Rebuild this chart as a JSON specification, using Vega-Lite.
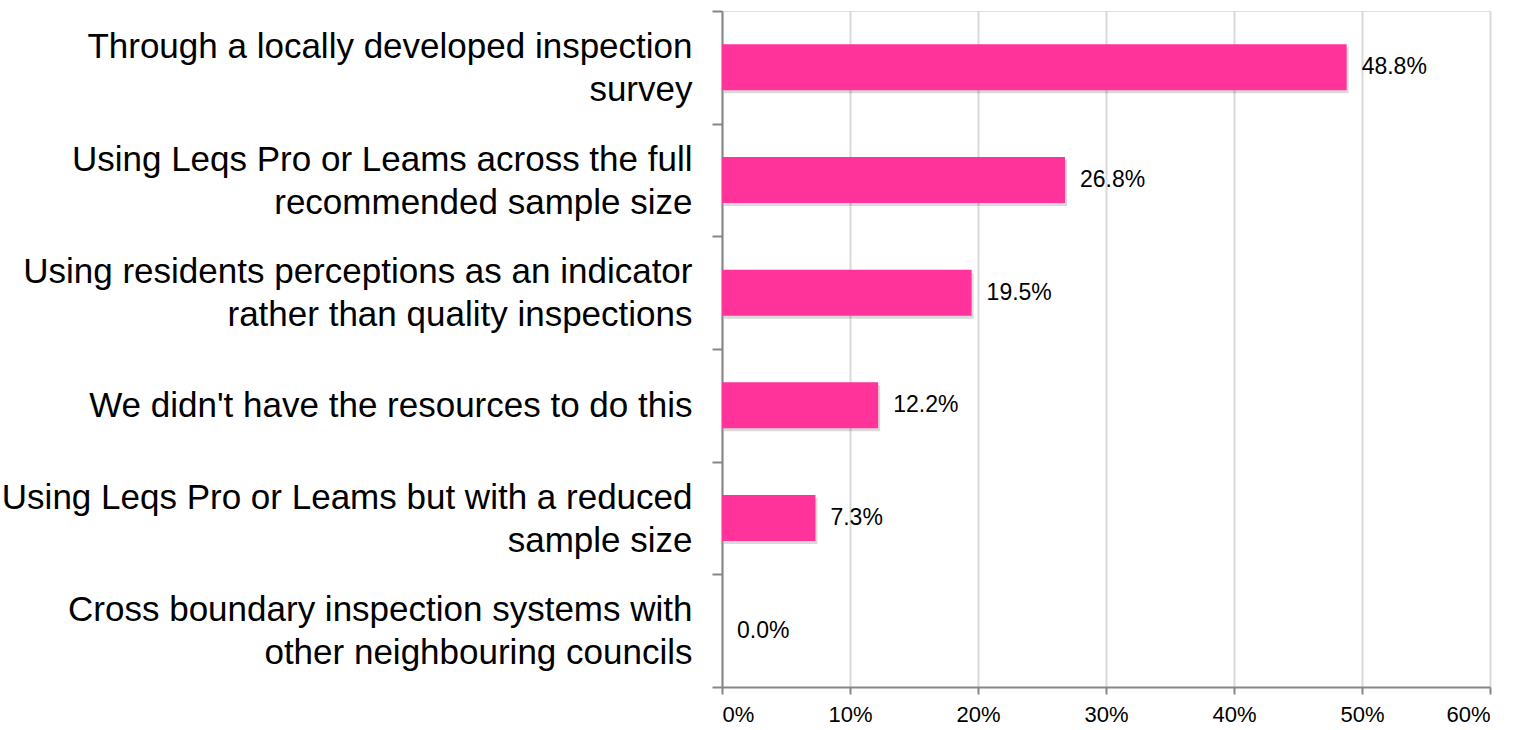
{
  "$schema": "https://vega.github.io/schema/vega-lite/v6.json",
  "autosize": "none",
  "width": 768,
  "height": 676,
  "padding": {"left": 722, "top": 11, "right": 28, "bottom": 43},
  "background": "white",
  "data": {"values": [
    {"method": "Through a locally developed inspection|survey", "share": 0.488, "label": "48.8%"},
    {"method": "Using Leqs Pro or Leams across the full|recommended sample size", "share": 0.268, "label": "26.8%"},
    {"method": "Using residents perceptions as an indicator|rather than quality inspections", "share": 0.195, "label": "19.5%"},
    {"method": "We didn't have the resources to do this", "share": 0.122, "label": "12.2%"},
    {"method": "Using Leqs Pro or Leams but with a reduced|sample size", "share": 0.073, "label": "7.3%"},
    {"method": "Cross boundary inspection systems with|other neighbouring councils", "share": 0.0, "label": "0.0%"}
  ]},
  "encoding": {
    "y": {
      "field": "method", "type": "nominal", "sort": null,
      "scale": {"paddingInner": 0, "paddingOuter": 0},
      "axis": {
        "title": null,
        "labelExpr": "isString(datum.value) ? split(datum.value, '|') : ''",
        "labelFont": "Liberation Sans",
        "labelFontSize": 35,
        "labelLineHeight": 43,
        "labelColor": "#000000",
        "labelPadding": 20,
        "labelLimit": 720,
        "labelOffset": {"condition": {"test": "isString(datum.value) && indexof(datum.value, '|') >= 0", "value": -21}, "value": 0},
        "tickBand": "extent",
        "tickSize": 10,
        "tickColor": "#868686",
        "tickWidth": 2,
        "domainColor": "#868686",
        "domainWidth": 2,
        "grid": false
      }
    }
  },
  "layer": [
    {
      "mark": {"type": "bar", "color": "#000000", "opacity": 0.15, "xOffset": 2, "yOffset": 3, "size": 46},
      "encoding": {
        "x": {"field": "share", "type": "quantitative"}
      }
    },
    {
      "mark": {"type": "bar", "color": "#FF3399", "size": 46},
      "encoding": {
        "x": {
          "field": "share", "type": "quantitative",
          "scale": {"domain": [0, 0.6], "nice": false},
          "axis": {
            "title": null,
            "format": ".0%",
            "values": [0, 0.1, 0.2, 0.3, 0.4, 0.5, 0.6],
            "labelFont": "Liberation Sans",
            "labelFontSize": 22,
            "labelColor": "#000000",
            "labelPadding": 10,
            "tickSize": 7,
            "tickColor": "#868686",
            "tickWidth": 2,
            "domainColor": "#868686",
            "domainWidth": 2,
            "grid": true,
            "gridColor": "#D9D9D9",
            "gridWidth": 2
          }
        }
      }
    },
    {
      "mark": {"type": "text", "align": "left", "baseline": "middle", "dx": 15, "font": "Liberation Sans", "fontSize": 23, "color": "#000000"},
      "encoding": {
        "x": {"field": "share", "type": "quantitative"},
        "text": {"field": "label"}
      }
    }
  ]
}
